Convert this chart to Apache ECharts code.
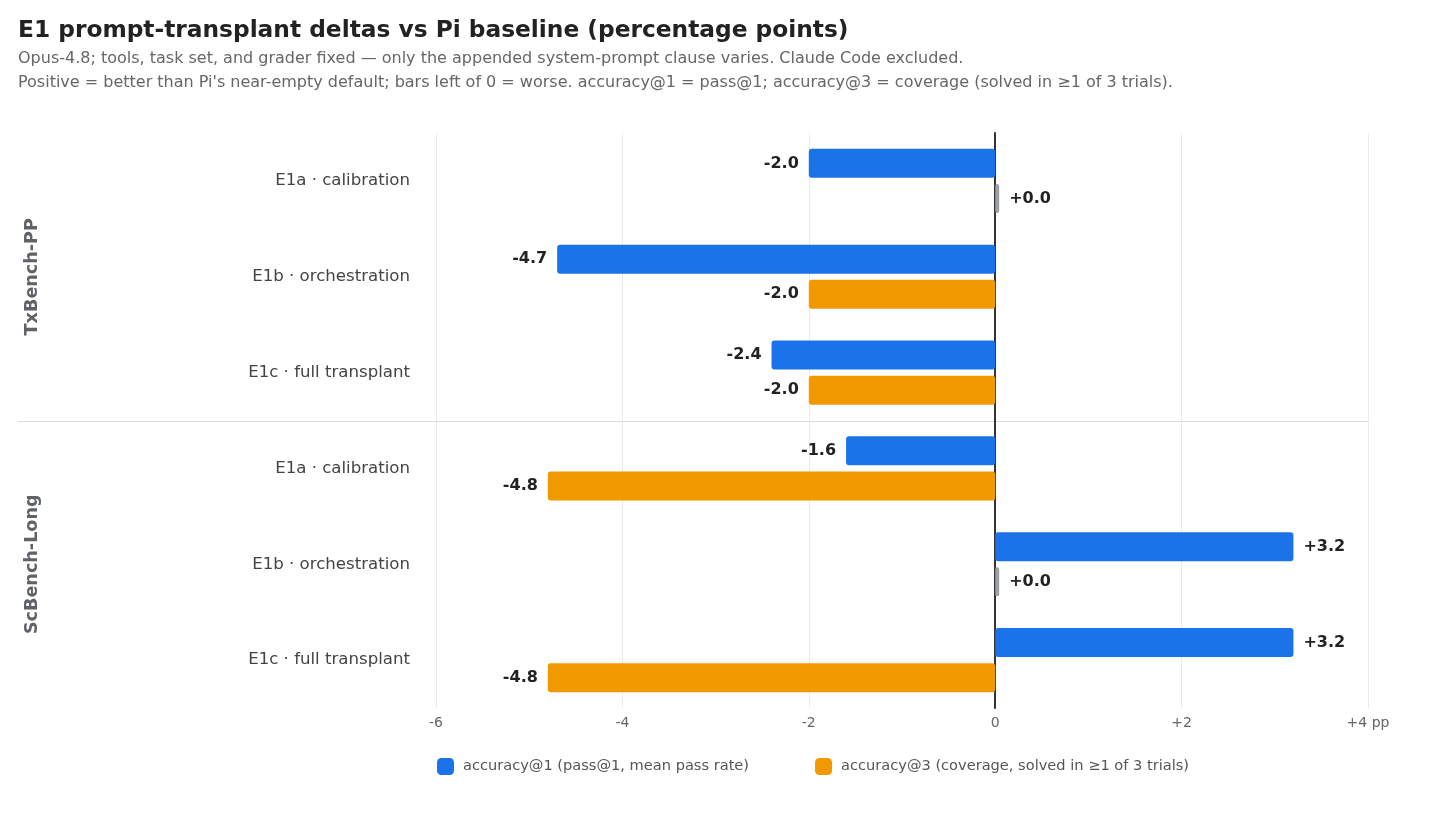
<!DOCTYPE html>
<html>
<head>
<meta charset="utf-8">
<script src="https://cdn.jsdelivr.net/npm/echarts@6/dist/echarts.min.js"></script>
<style>
  html, body { margin: 0; padding: 0; background: #fff; }
  #chart { width: 1456px; height: 815px; }
</style>
</head>
<body>
<div id="chart"></div>
<script>
var groups = ["TxBench-PP", "ScBench-Long"];
var variants = ["E1a · calibration", "E1b · orchestration", "E1c · full transplant"];
// per group, in variant order
var acc1 = [-2.0, -4.7, -2.4, -1.6, 3.2, 3.2];
var acc3 = [0.0, -2.0, -2.0, -4.8, 0.0, -4.8];

var FONT = "'DejaVu Sans', sans-serif";
var BLUE = "#1a73e8", ORANGE = "#f29900", ZERO_GREY = "#9aa0a6";

var categories = [];
groups.forEach(function (g) {
    variants.forEach(function (v) {
        categories.push(g + "|" + v);
    });
});

function fmt(v) {
    return (v >= 0 ? "+" : "") + v.toFixed(1);
}

function buildData(values, color) {
    return values.map(function (v) {
        return {
            value: v,
            itemStyle: { color: v === 0 ? ZERO_GREY : color },
            label: { position: v < 0 ? "left" : "right" }
        };
    });
}

function barSeries(name, values, color) {
    return {
        name: name,
        type: "bar",
        data: buildData(values, color),
        barWidth: 29,
        barGap: "21%",
        barMinHeight: 4,
        itemStyle: { color: color, borderRadius: 3 },
        label: {
            show: true,
            distance: 10,
            fontFamily: FONT,
            fontSize: 16,
            fontWeight: "bold",
            color: "#222",
            formatter: function (p) { return fmt(p.value); }
        }
    };
}

var chart = echarts.init(document.getElementById("chart"));
var option = {
    animation: false,
    backgroundColor: "#fff",
    textStyle: { fontFamily: FONT },
    title: {
        text: "E1 prompt-transplant deltas vs Pi baseline (percentage points)",
        subtext: "Opus-4.8; tools, task set, and grader fixed — only the appended system-prompt clause varies. Claude Code excluded.\nPositive = better than Pi's near-empty default; bars left of 0 = worse. accuracy@1 = pass@1; accuracy@3 = coverage (solved in ≥1 of 3 trials).",
        left: 18,
        top: 19,
        padding: 0,
        itemGap: 5,
        textStyle: { fontFamily: FONT, fontSize: 23.3, fontWeight: "bold", color: "#222" },
        subtextStyle: { fontFamily: FONT, fontSize: 16, color: "#666", lineHeight: 24 }
    },
    legend: {
        bottom: 40,
        left: 437,
        padding: 0,
        itemWidth: 17,
        itemHeight: 17,
        itemGap: 66,
        icon: "roundRect",
        textStyle: { fontFamily: FONT, fontSize: 14.6, color: "#555", padding: [0, 0, 0, 4] },
        data: ["accuracy@1 (pass@1, mean pass rate)", "accuracy@3 (coverage, solved in ≥1 of 3 trials)"]
    },
    grid: { left: 436, right: 88, top: 133, bottom: 107 },
    xAxis: {
        type: "value",
        min: -6,
        max: 4,
        interval: 2,
        axisLine: { show: false },
        axisTick: { show: false },
        splitLine: { lineStyle: { color: "#ebebeb", width: 1 } },
        axisLabel: {
            margin: 8,
            fontFamily: FONT,
            fontSize: 14,
            color: "#666",
            formatter: function (v) {
                if (v === 4) return "+4 pp";
                return v > 0 ? "+" + v : String(v);
            }
        }
    },
    yAxis: {
        type: "category",
        inverse: true,
        data: categories,
        axisLine: { show: true, onZero: true, lineStyle: { color: "#333", width: 2 } },
        axisTick: { show: false },
        axisLabel: {
            margin: 26,
            fontFamily: FONT,
            fontSize: 16.6,
            color: "#444",
            formatter: function (v) { return v.split("|")[1]; }
        }
    },
    series: [
        barSeries("accuracy@1 (pass@1, mean pass rate)", acc1, BLUE),
        barSeries("accuracy@3 (coverage, solved in ≥1 of 3 trials)", acc3, ORANGE)
    ]
};
chart.setOption(option);

// group labels and separator, placed from the axis scale
var graphics = [];
groups.forEach(function (g, gi) {
    var first = chart.convertToPixel({ yAxisIndex: 0 }, categories[gi * 3]);
    var last = chart.convertToPixel({ yAxisIndex: 0 }, categories[gi * 3 + 2]);
    graphics.push({
        type: "text",
        x: 32,
        y: (first + last) / 2,
        rotation: Math.PI / 2,
        style: {
            text: g,
            fontFamily: FONT,
            fontSize: 17.6,
            fontWeight: "bold",
            fill: "#5f6368",
            align: "center",
            verticalAlign: "middle"
        }
    });
});
var y3 = chart.convertToPixel({ yAxisIndex: 0 }, categories[2]);
var y4 = chart.convertToPixel({ yAxisIndex: 0 }, categories[3]);
var sepY = Math.round((y3 + y4) / 2) + 0.5;
graphics.push({
    type: "line",
    shape: { x1: 18, y1: sepY, x2: 1368, y2: sepY },
    style: { stroke: "#dadce0", lineWidth: 1 },
    z: 0
});
chart.setOption({ graphic: graphics });

window.addEventListener("resize", function () { chart.resize(); });
</script>
</body>
</html>
